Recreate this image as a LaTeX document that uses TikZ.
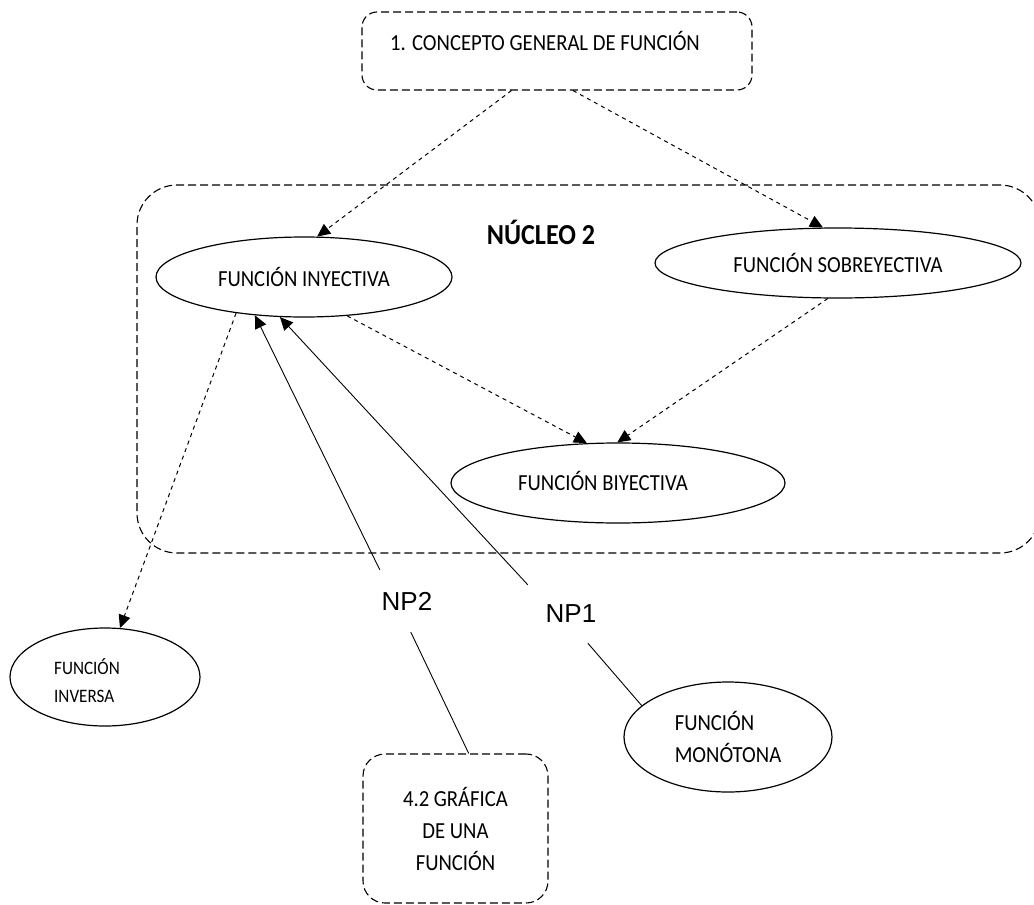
\documentclass[tikz,border=0pt]{standalone}
\usepackage{fontspec}
\setmainfont[FakeStretch=0.9]{Carlito}
\newfontfamily\npfont{Liberation Sans}
\usetikzlibrary{shapes.geometric,arrows.meta}
\begin{document}
\begin{tikzpicture}[x=1pt,y=-1pt,
  ell/.style={draw,ellipse,line width=1.2pt,inner sep=0pt,align=center,font=\fontsize{23}{32}\selectfont},
  dbox/.style={draw,rectangle,rounded corners=#1,dash pattern=on 8pt off 4pt,line width=1.1pt,inner sep=0pt,align=center,font=\fontsize{23}{32}\selectfont},
  dbox/.default=20pt,
  nplabel/.style={font=\npfont\fontsize{26}{30}\selectfont,inner sep=0pt},
  darr/.style={dash pattern=on 4pt off 4pt,line width=1pt,-{Triangle[length=13pt,width=12pt]}},
  sarr/.style={line width=0.9pt,-{Triangle[length=13pt,width=12pt]}},
  sline/.style={line width=0.9pt}
]
\useasboundingbox (0,0) rectangle (1034,905);
% container
\node[dbox=40pt,minimum width=903pt,minimum height=368pt] (core) at (588.5,369) {};
\node[font=\bfseries\fontsize{29}{32}\selectfont] (nucleo) at (541,232) {NÚCLEO 2};
% top box
\node[dbox=15pt,minimum width=390pt,minimum height=78pt] (gen) at (557,51) {};
\node[font=\fontsize{23}{27}\selectfont] (gentxt) at (545,41) {1. CONCEPTO GENERAL DE FUNCIÓN};
% ellipses
\node[ell,minimum width=296pt,minimum height=80pt] (inj) at (304,277) {FUNCIÓN INYECTIVA};
\node[ell,minimum width=366pt,minimum height=70pt] (sob) at (838,263) {FUNCIÓN SOBREYECTIVA};
\node[ell,minimum width=334pt,minimum height=80pt,
  label={[name=biyt,xshift=-15pt,yshift=2pt,font=\fontsize{23}{32}\selectfont]center:FUNCIÓN BIYECTIVA}] (biy) at (618,483) {};
\node[ell,minimum width=190pt,minimum height=98pt,
  label={[name=invt,align=left,xshift=-18pt,yshift=-4pt,font=\fontsize{19}{28}\selectfont]center:FUNCIÓN\\INVERSA}] (inv) at (105,677) {};
\node[ell,align=left,minimum width=208pt,minimum height=110pt] (mon) at (728,737) {FUNCIÓN\\MONÓTONA};
% bottom box
\node[dbox=22pt,minimum width=185pt,minimum height=149pt] (box42) at (455.5,828.5) {4.2 GRÁFICA\\DE UNA\\FUNCIÓN};
% NP labels
\node[nplabel,minimum width=54pt,minimum height=62pt] (np2) at (407,601) {NP2};
\node[nplabel,minimum width=86pt,minimum height=58pt] (np1) at (571,614) {NP1};
% connectors
\draw[darr] (gen.221.6) -- (inj.72);
\draw[darr] (gen.292.3) -- (sob.113);
\draw[darr] (inj.318) -- (biy.128);
\draw[darr] (sob.254) -- (biy.91);
\draw[darr] (inj.208) -- (inv.73);
\draw[sarr] (np2.north west) -- (inj.218);
\draw[sarr] (np1.north west) -- (inj.239);
\draw[sline] (np2.-83) -- (box42.80);
\draw[sline] (np1.-60) -- (mon.160);
\end{tikzpicture}
\end{document}
